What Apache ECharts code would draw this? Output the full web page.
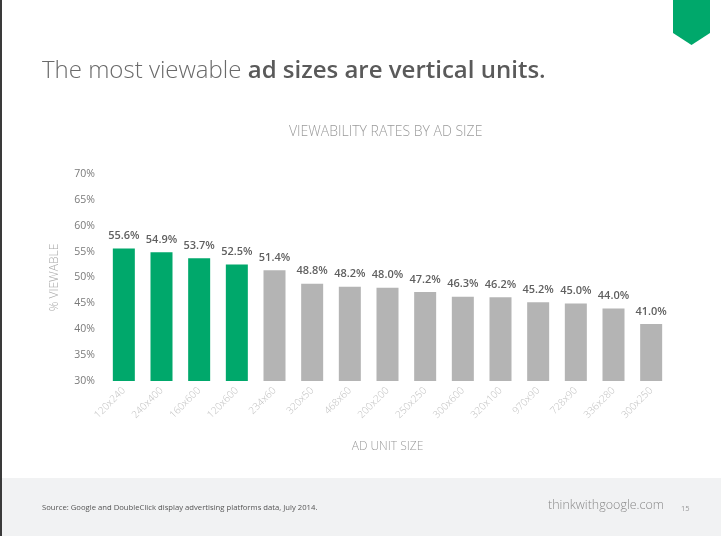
<!DOCTYPE html>
<html><head><meta charset="utf-8">
<script src="https://cdn.jsdelivr.net/npm/echarts@6/dist/echarts.min.js"></script>
<style>html,body{margin:0;padding:0;background:#fff}#c{width:721px;height:536px}</style>
</head><body><div id="c"></div>
<script>
const categories = ['120x240','240x400','160x600','120x600','234x60','320x50','468x60','200x200','250x250','300x600','320x100','970x90','728x90','336x280','300x250'];
const values = [55.6,54.9,53.7,52.5,51.4,48.8,48.2,48.0,47.2,46.3,46.2,45.2,45.0,44.0,41.0];
const highlighted = [true,true,true,true,false,false,false,false,false,false,false,false,false,false,false];
const yTicks = {min:30,max:70,interval:5};

const GREEN = '#00a86b', GRAY = '#b4b4b4';
const font = '"Open Sans", "Noto Sans", sans-serif';
const chart = echarts.init(document.getElementById('c'), null, {renderer:'canvas'});
chart.setOption({
  animation:false,
  backgroundColor:'#fff',
  grid:{left:105,right:51,top:174,bottom:155},
  xAxis:{type:'category',data:categories,
    axisLine:{show:false},axisTick:{show:false},
    axisLabel:{rotate:45,color:'#c0c0c0',fontSize:10,fontFamily:font,fontWeight:300,margin:8},
    name:'AD UNIT SIZE',nameLocation:'middle',nameGap:60,
    nameTextStyle:{color:'#9a9a9a',fontSize:12,fontFamily:font,fontWeight:300}},
  yAxis:{type:'value',min:yTicks.min,max:yTicks.max,interval:yTicks.interval,
    axisLine:{show:false},axisTick:{show:false},splitLine:{show:false},
    axisLabel:{formatter:'{value}%',color:'#7a7a7a',fontSize:10.5,fontFamily:font,margin:10},
    name:'% VIEWABLE',nameLocation:'middle',nameGap:44,nameRotate:90,
    nameTextStyle:{color:'#a8a8a8',fontSize:12,fontFamily:font,fontWeight:300}},
  series:[{type:'bar',barWidth:22,
    data:values.map((v,i)=>({value:v,itemStyle:{color:highlighted[i]?GREEN:GRAY}})),
    label:{show:true,position:'top',distance:7,formatter:p=>p.value.toFixed(1)+'%',
      color:'#5f5f5f',fontSize:11,fontFamily:font,fontWeight:600}}],
  graphic:[
    {type:'rect',left:0,top:478,shape:{width:721,height:58},style:{fill:'#f1f2f3'},z:-10},
    {type:'rect',left:0,top:0,shape:{width:2,height:536},style:{fill:'#3a3a3a'}},
    {type:'polygon',shape:{points:[[673,0],[710,0],[710,33],[691.5,45],[673,33]]},style:{fill:'#00a86b'}},
    {type:'text',left:42,top:59,style:{rich:{
        a:{fontSize:24,fontFamily:font,fontWeight:300,fill:'#6a6a6a'},
        b:{fontSize:24,fontFamily:font,fontWeight:600,fill:'#5a5a5a'}},
      text:'{a|The most viewable }{b|ad sizes are vertical units.}'}},
    {type:'text',left:289,top:125,style:{text:'VIEWABILITY RATES BY AD SIZE',fontSize:14,fontFamily:font,fontWeight:300,fill:'#9a9a9a'}},
    {type:'text',left:42,top:504,style:{text:'Source: Google and DoubleClick display advertising platforms data, July 2014.',fontSize:7.7,fontFamily:font,fill:'#555'}},
    {type:'text',left:548,top:499,style:{text:'thinkwithgoogle.com',fontSize:12.5,fontFamily:font,fontWeight:300,fill:'#8a8a8a'}},
    {type:'text',left:681,top:505,style:{text:'15',fontSize:7.5,fontFamily:font,fill:'#999'}}
  ]
});
</script></body></html>
